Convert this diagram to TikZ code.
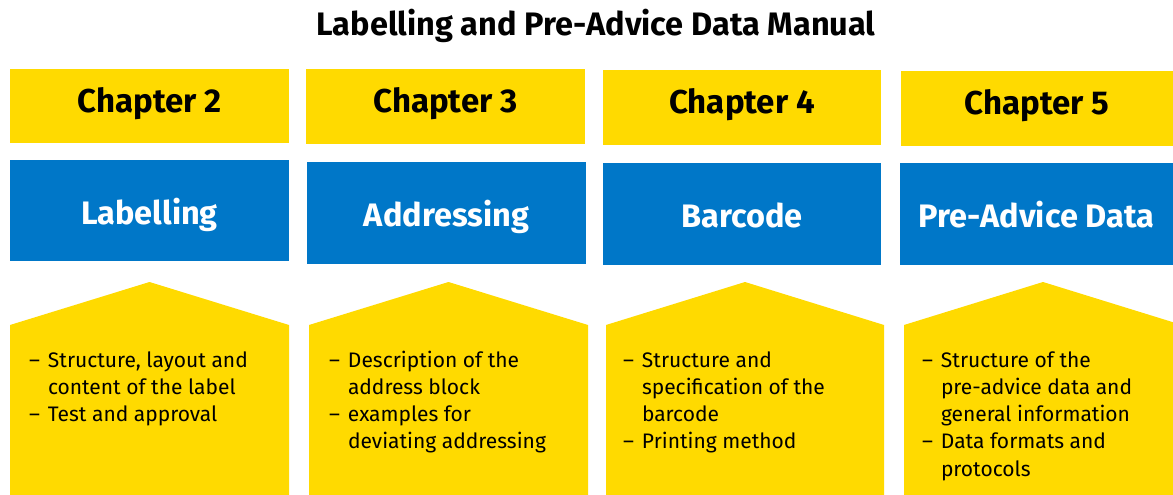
\documentclass[tikz,border=0pt]{standalone}
\usepackage{fontspec}
\setmainfont{Fira Sans}
\definecolor{dpyellow}{HTML}{FFDA00}
\definecolor{dpblue}{HTML}{0077C8}
\newcommand{\bul}{\leavevmode\llap{–\hspace{8pt}}}
\tikzset{
  chapbox/.style={fill=dpyellow, draw=none, inner sep=0pt, outer sep=0pt,
    font=\fontsize{33}{33}\selectfont\bfseries, text=black,
    text height=23pt, text depth=11pt},
  topicbox/.style={fill=dpblue, draw=none, inner sep=0pt, outer sep=0pt,
    font=\fontsize{32.5}{32.5}\selectfont\bfseries, text=white,
    text height=30pt, text depth=3pt},
  house/.style={fill=dpyellow, draw=none},
  bullets/.style={anchor=base west, inner sep=0pt, outer sep=0pt, text=black},
  titletext/.style={anchor=base, inner sep=0pt, font=\fontsize{32.5}{32.5}\selectfont\bfseries}
}
\newcommand{\blist}[1]{\parbox[t]{250pt}{\fontsize{21}{27.3}\selectfont\raggedright #1}}
\begin{document}
\begin{tikzpicture}[x=1pt,y=-1pt]
\useasboundingbox (0,0) rectangle (1173,495);
\clip (0,0) rectangle (1173,495);
\node[titletext] (title) at (596,36) {Labelling and Pre-Advice Data Manual};
% chapter boxes
\node[chapbox, minimum width=279pt, minimum height=74pt] (ch2) at (149.5,106) {Chapter 2};
\node[chapbox, minimum width=279pt, minimum height=75pt] (ch3) at (445.5,106.5) {Chapter 3};
\node[chapbox, minimum width=278pt, minimum height=75pt] (ch4) at (742,107.5) {Chapter 4};
\node[chapbox, minimum width=272pt, minimum height=75pt] (ch5) at (1037,108.5) {Chapter 5};
% topic boxes
\node[topicbox, minimum width=279pt, minimum height=101pt] (t2) at (149.5,210.5) {Labelling};
\node[topicbox, minimum width=279pt, minimum height=102pt] (t3) at (446.5,213) {Addressing};
\node[topicbox, minimum width=278pt, minimum height=102pt] (t4) at (742,214) {Barcode};
\node[topicbox, minimum width=273pt, minimum height=102pt] (t5) at (1036.5,214) {Pre-Advice Data};
% houses
\fill[house] (10,495) -- (10,325) -- (149.5,282) -- (289,325) -- (289,495) -- cycle;
\fill[house] (309,495) -- (309,325) -- (448.5,282) -- (588,325) -- (588,495) -- cycle;
\fill[house] (606,495) -- (606,325) -- (745,282) -- (884,325) -- (884,495) -- cycle;
\fill[house] (904,495) -- (904,325) -- (1043,282) -- (1182,325) -- (1182,495) -- cycle;
% bullet texts
\node[bullets] (b2) at (48,367) {\blist{\bul Structure, layout and\\content of the label\\\bul Test and approval}};
\node[bullets] (b3) at (348,367) {\blist{\bul Description of the\\address block\\\bul examples for\\deviating addressing}};
\node[bullets] (b4) at (642,367) {\blist{\bul Structure and\\specification of the\\barcode\\\bul Printing method}};
\node[bullets] (b5) at (941,367) {\blist{\bul Structure of the\\pre-advice data and\\general information\\\bul Data formats and\\protocols}};
\end{tikzpicture}
\end{document}
